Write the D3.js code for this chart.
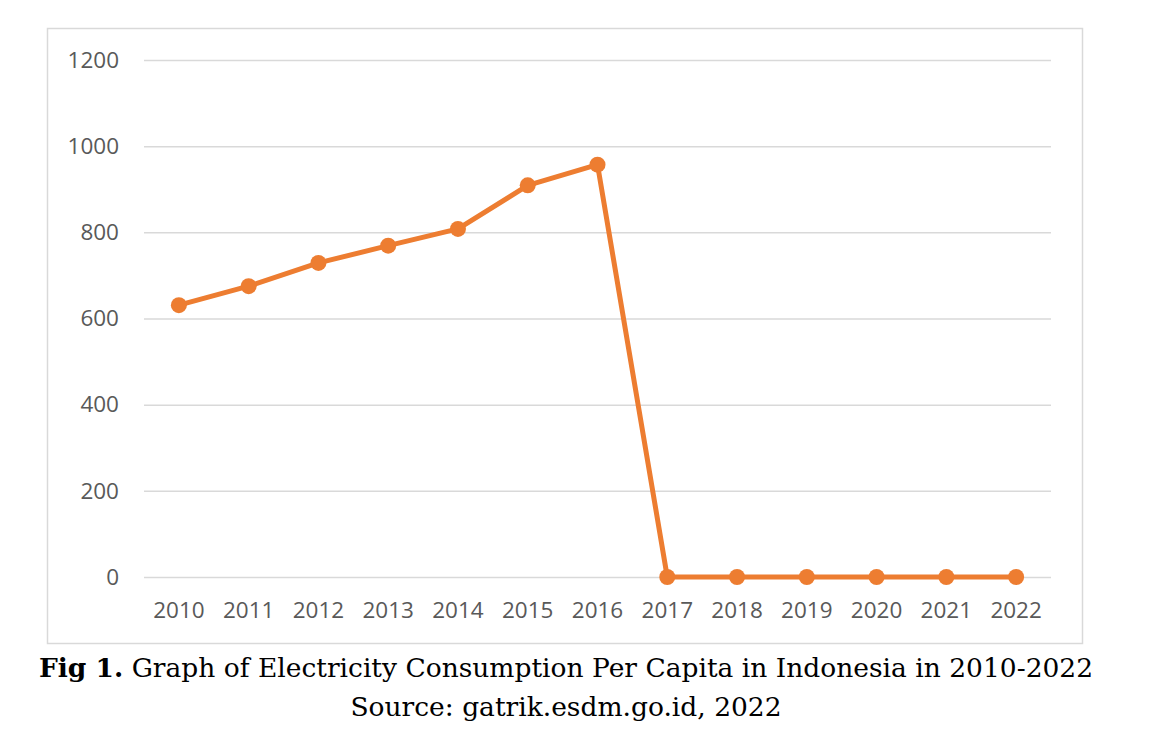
<!DOCTYPE html>
<html>
<head>
<meta charset="utf-8">
<script src="https://cdn.jsdelivr.net/npm/d3@7"></script>
<style>
  body { margin: 0; background: #fff; }
</style>
</head>
<body>
<div id="chart"></div>
<script>
// data
var years = ["2010", "2011", "2012", "2013", "2014", "2015", "2016",
             "2017", "2018", "2019", "2020", "2021", "2022"];
var consumption = [631, 675, 729, 769, 808, 909, 957, 0, 0, 0, 0, 0, 0];
var yTicks = [0, 200, 400, 600, 800, 1000, 1200];

var width = 1152, height = 742;
var plot = { left: 144, right: 1051, top: 60, bottom: 577 };

var svg = d3.select("#chart").append("svg")
    .attr("width", width)
    .attr("height", height);

// chart frame
svg.append("rect")
    .attr("x", 47.5).attr("y", 28.5)
    .attr("width", 1035).attr("height", 615)
    .attr("fill", "#fff")
    .attr("stroke", "#d9d9d9")
    .attr("stroke-width", 1.5);

var x = d3.scaleBand()
    .domain(years)
    .range([plot.left, plot.right]);

var y = d3.scaleLinear()
    .domain([0, 1200])
    .range([plot.bottom, plot.top]);

// gridlines + y labels
var yAxis = d3.axisLeft(y)
    .tickValues(yTicks)
    .tickFormat(d3.format("d"))
    .tickSize(-(plot.right - plot.left))
    .tickPadding(25);

var gy = svg.append("g")
    .attr("transform", "translate(" + plot.left + ",0)")
    .call(yAxis);
gy.select(".domain").remove();
gy.selectAll(".tick line")
    .attr("stroke", "#d9d9d9")
    .attr("stroke-width", 1.5);
gy.selectAll(".tick text")
    .attr("fill", "#595959")
    .style("font-family", "'Open Sans', Lato, sans-serif")
    .style("font-size", "22.5px");

// x labels
var xAxis = d3.axisBottom(x).tickSize(0).tickPadding(25);
var gx = svg.append("g")
    .attr("transform", "translate(0," + plot.bottom + ")")
    .call(xAxis);
gx.select(".domain").remove();
gx.selectAll(".tick text")
    .attr("fill", "#595959")
    .style("font-family", "'Open Sans', Lato, sans-serif")
    .style("font-size", "22.5px");

// the series
var line = d3.line()
    .x(function(d, i) { return x(years[i]) + x.bandwidth() / 2; })
    .y(function(d) { return y(d); });

svg.append("path")
    .datum(consumption)
    .attr("d", line)
    .attr("fill", "none")
    .attr("stroke", "#ed7d31")
    .attr("stroke-width", 5)
    .attr("stroke-linejoin", "round");

svg.selectAll(".dot")
    .data(consumption)
    .enter().append("circle")
    .attr("class", "dot")
    .attr("cx", function(d, i) { return x(years[i]) + x.bandwidth() / 2; })
    .attr("cy", function(d) { return y(d); })
    .attr("r", 8)
    .attr("fill", "#ed7d31");

// caption
var cap = svg.append("text")
    .attr("x", 566).attr("y", 677)
    .attr("text-anchor", "middle")
    .style("font-family", "'DejaVu Serif', 'Liberation Serif', serif")
    .style("font-size", "26.5px")
    .attr("fill", "#000");
cap.append("tspan").attr("font-weight", "bold").text("Fig 1.");
cap.append("tspan").text(" Graph of Electricity Consumption Per Capita in Indonesia in 2010-2022");

svg.append("text")
    .attr("x", 566).attr("y", 716)
    .attr("text-anchor", "middle")
    .style("font-family", "'DejaVu Serif', 'Liberation Serif', serif")
    .style("font-size", "26.5px")
    .attr("fill", "#000")
    .text("Source: gatrik.esdm.go.id, 2022");
</script>
</body>
</html>
